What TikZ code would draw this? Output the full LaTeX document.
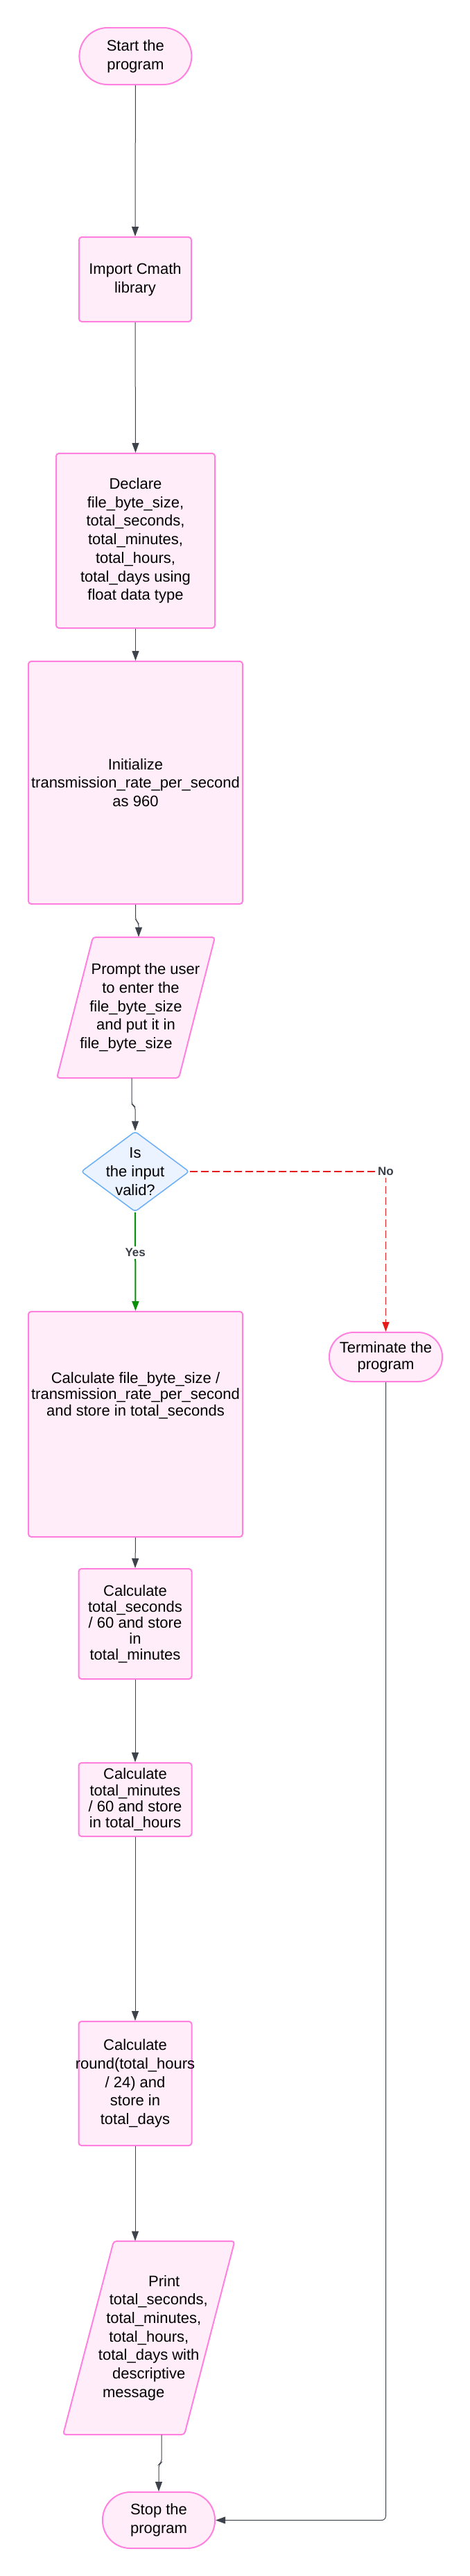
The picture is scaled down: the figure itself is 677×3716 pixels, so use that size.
\documentclass[tikz,border=0pt]{standalone}
\usepackage{fontspec}
\setmainfont{Liberation Sans}
\usetikzlibrary{shapes.geometric,arrows.meta,calc,backgrounds}
\definecolor{pinkline}{HTML}{FF80DF}
\definecolor{pinkfill}{HTML}{FFEEF9}
\definecolor{blueline}{HTML}{6AAEF5}
\definecolor{bluefill}{HTML}{EAF3FF}
\definecolor{arrowgray}{HTML}{3D424B}
\definecolor{yesgreen}{HTML}{0A8F0A}
\definecolor{nored}{HTML}{E51C1C}
\definecolor{lblgray}{HTML}{3A404A}
\begin{document}
\begin{tikzpicture}[x=0.5pt,y=-0.5pt,
  base/.style={inner sep=0pt, align=center, font=\fontsize{11}{13.35}\selectfont},
  procbox/.style={base, rectangle, draw=pinkline, fill=pinkfill, line width=1pt, rounded corners=2pt},
  termbox/.style={base, rectangle, draw=pinkline, fill=pinkfill, line width=1pt},
  iobox/.style={base, rectangle, draw=none},
  iofill/.style={draw=pinkline, fill=pinkfill, line width=1pt, rounded corners=2pt},
  decbox/.style={base, diamond, draw=blueline, fill=bluefill, line width=0.75pt, rounded corners=2pt, shape aspect=1.345, inner sep=-4pt},
  arr/.style={draw=arrowgray, line width=0.5pt, -{Triangle[length=7pt,width=5pt]}},
  yesarr/.style={draw=yesgreen, line width=1pt, -{Triangle[length=7pt,width=5pt]}},
  noarr/.style={draw=nored, line width=0.75pt, dash pattern=on 5.5pt off 2.5pt, -{Triangle[length=7pt,width=5pt]}},
  lbl/.style={font=\bfseries\fontsize{8.5}{10}\selectfont, text=lblgray, fill=white, inner sep=1.5pt}
]
\useasboundingbox (0,0) rectangle (677,3716);

% nodes
\node[termbox, rounded corners=20.5pt, minimum width=81pt, minimum height=41pt] (start) at (195.4,81) {Start the\\program};
\node[procbox, minimum width=81pt, minimum height=61pt] (import) at (195,403) {Import Cmath\\library};
\node[procbox, minimum width=114.5pt, minimum height=126pt] (declare) at (195.5,780)
  {Declare\\file\_byte\_size,\\total\_seconds,\\total\_minutes,\\total\_hours,\\total\_days using\\float data type};
\node[procbox, minimum width=154.5pt, minimum height=175pt] (init) at (195.5,1129)
  {Initialize\\transmission\_rate\_per\_second\\as 960};
\node[iobox, minimum width=88pt, minimum height=101.5pt] (prompt) at (196,1453.5)
  {\hspace*{14pt}Prompt the user\\\hspace*{7pt}to enter the\\file\_byte\_size\\and put it in\hspace*{7pt}\\file\_byte\_size\hspace*{14pt}};
\node[decbox, minimum width=78pt, minimum height=58pt] (dec) at (195,1690) {Is\\the input\\valid?};
\node[termbox, rounded corners=17.5pt, minimum width=81.5pt, minimum height=35.5pt, font=\fontsize{11}{12}\selectfont] (term) at (556.5,1957.5) {Terminate the\\program};
\node[procbox, minimum width=154.5pt, minimum height=162.5pt, font=\fontsize{11}{11.65}\selectfont] (calc1) at (195.5,2054.5)
  {Calculate file\_byte\_size /\\transmission\_rate\_per\_second\\and store in total\_seconds\\[32pt]\mbox{}};
\node[procbox, minimum width=81.5pt, minimum height=79.5pt, font=\fontsize{11}{11.5}\selectfont] (calc2) at (195,2342.5)
  {Calculate\\total\_seconds\\/ 60 and store\\in\\total\_minutes};
\node[procbox, minimum width=81.5pt, minimum height=53pt, font=\fontsize{11}{11.65}\selectfont] (calc3) at (195,2596)
  {Calculate\\total\_minutes\\/ 60 and store\\in total\_hours};
\node[procbox, minimum width=81.5pt, minimum height=89.5pt] (calc4) at (195,3005.5)
  {Calculate\\\makebox[0pt]{round(total\_hours}\\/ 24) and\\store in\\total\_days};
\node[iobox, minimum width=87pt, minimum height=139.5pt] (print) at (214.75,3372.5)
  {\hspace*{22pt}Print\\\hspace*{14pt}total\_seconds,\\\hspace*{7pt}total\_minutes,\\total\_hours,\\total\_days with\hspace*{7pt}\\descriptive\hspace*{14pt}\\message\hspace*{22pt}};
\node[termbox, rounded corners=20pt, minimum width=81pt, minimum height=40.5pt] (stop) at (229,3635.5) {Stop the\\program};

% parallelogram outlines
\begin{scope}[on background layer]
\fill[white] (0,0) rectangle (677,3716);
\draw[iofill] ($(prompt.center)+(-62,-101.5)$) -- ($(prompt.center)+(114,-101.5)$)
  -- ($(prompt.center)+(62,101.5)$) -- ($(prompt.center)+(-114,101.5)$) -- cycle;
\draw[iofill] ($(print.center)+(-50.75,-139.5)$) -- ($(print.center)+(123.75,-139.5)$)
  -- ($(print.center)+(51.25,139.5)$) -- ($(print.center)+(-123.75,139.5)$) -- cycle;
\end{scope}

% connectors
\draw[arr] (start.south) -- (import.north);
\draw[arr] (import.south) -- (declare.north);
\draw[arr] (declare.south) -- (init.north);
\draw[arr, rounded corners=2pt] (init.south) -- ++(0,22) -- ($(prompt.north)+(4,-20)$) -- ($(prompt.north)+(4,0)$);
\draw[arr, rounded corners=2pt] ($(prompt.south)+(-6,0)$) -- ++(0,38) -- ($(dec.north)+(0,-35)$) -- (dec.north);
\draw[yesarr] (dec.south) -- node[lbl,pos=0.41]{Yes} (calc1.north);
\draw[noarr] (dec.east) -| node[lbl,pos=0.5]{No} (term.north);
\draw[arr] (calc1.south) -- (calc2.north);
\draw[arr] (calc2.south) -- (calc3.north);
\draw[arr] (calc3.south) -- (calc4.north);
\draw[arr] (calc4.south) -- (calc4.south |- print.north);
\draw[arr, rounded corners=2pt] ($(print.south)+(18.25,0)$) -- ++(0,40) -- ($(stop.north)+(0,-39)$) -- (stop.north);
\draw[arr, rounded corners=3pt] (term.south) |- (stop.east);
\end{tikzpicture}
\end{document}
